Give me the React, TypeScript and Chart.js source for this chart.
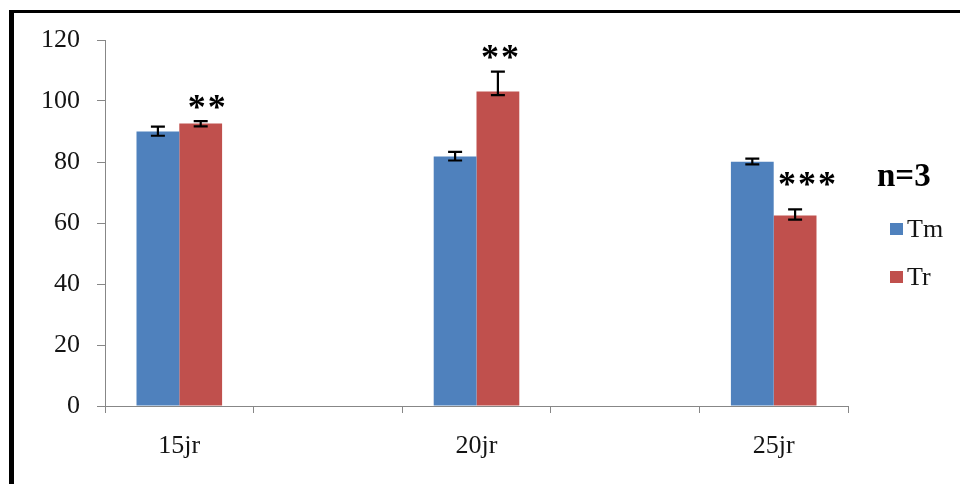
import React, { useEffect, useRef } from "react";
import { Chart, registerables } from "chart.js";

Chart.register(...registerables);

// ---- data ----
const categories = ["15jr", "20jr", "25jr"];
const seriesNames = ["Tm", "Tr"];
const tmValues = [90.0, 81.8, 80.1];
const trValues = [92.6, 103.1, 62.5];
const tmErrUp = [1.6, 1.5, 1.0];
const tmErrDown = [1.4, 1.3, 0.9];
const trErrUp = [0.8, 6.5, 2.0];
const trErrDown = [0.9, 1.2, 1.4];
const starLabels = ["**", "**", "***"];
const starLevels = [99.8, 116.2, 74.3]; // vertical position of the marks, in value units
const yTicks = [0, 20, 40, 60, 80, 100, 120];
const noteText = "n=3";

// ---- styles ----
const BLUE = "#4F81BD";
const RED = "#C0504D";
const AXIS = "#878787";
const TEXT = "#141414";
const SERIF = "'Liberation Serif', 'Times New Roman', serif";
const starDx = [7, 3, 13];

function withGaps(arr: any[], gap: any) {
  const out: any[] = [];
  arr.forEach((v, i) => {
    out.push(v);
    if (i < arr.length - 1) out.push(gap);
  });
  return out;
}

const overlayPlugin = {
  id: "overlay",
  afterDatasetsDraw(chart: any) {
    const { ctx, chartArea } = chart;
    const yScale = chart.scales.y;
    ctx.save();
    // error bars
    const sets = [
      { vals: tmValues, up: tmErrUp, down: tmErrDown },
      { vals: trValues, up: trErrUp, down: trErrDown },
    ];
    ctx.strokeStyle = "#000";
    ctx.lineWidth = 2.2;
    sets.forEach((s, di) => {
      const meta = chart.getDatasetMeta(di);
      s.vals.forEach((v, i) => {
        const bar = meta.data[i * 2];
        if (!bar) return;
        const x = bar.x;
        const yt = yScale.getPixelForValue(v + s.up[i]);
        const yb = yScale.getPixelForValue(v - s.down[i]);
        ctx.beginPath();
        ctx.moveTo(x, yt);
        ctx.lineTo(x, yb);
        ctx.moveTo(x - 7, yt);
        ctx.lineTo(x + 7, yt);
        ctx.moveTo(x - 7, yb);
        ctx.lineTo(x + 7, yb);
        ctx.stroke();
      });
    });
    // significance stars
    const trMeta = chart.getDatasetMeta(1);
    ctx.fillStyle = "#000";
    ctx.font = `bold 36px ${SERIF}`;
    ctx.textAlign = "center";
    ctx.textBaseline = "alphabetic";
    (ctx as any).letterSpacing = "2px";
    starLabels.forEach((t, i) => {
      const bar = trMeta.data[i * 2];
      if (!bar) return;
      const yc = yScale.getPixelForValue(starLevels[i]);
      ctx.fillText(t, bar.x + starDx[i], yc + 17);
    });
    (ctx as any).letterSpacing = "0px";
    // n=3
    const r = chartArea.right;
    ctx.textAlign = "left";
    ctx.font = `bold 33px ${SERIF}`;
    ctx.fillStyle = "#000";
    ctx.fillText(noteText, r + 29, 186);
    // legend
    ctx.font = `26px ${SERIF}`;
    const colors = [BLUE, RED];
    const rows = [229, 277];
    seriesNames.forEach((n, i) => {
      ctx.fillStyle = colors[i];
      ctx.fillRect(r + 42, rows[i] - 6, 13, 12);
      ctx.fillStyle = TEXT;
      ctx.textBaseline = "middle";
      ctx.fillText(n, r + 59, rows[i] + 1);
    });
    ctx.restore();
  },
};

export default function App() {
  const ref = useRef<HTMLCanvasElement | null>(null);

  useEffect(() => {
    if (!ref.current) return;
    const labels = withGaps(categories, "");
    const chart = new Chart(ref.current, {
      type: "bar",
      data: {
        labels,
        datasets: [
          {
            label: seriesNames[0],
            data: withGaps(tmValues, null),
            backgroundColor: BLUE,
            borderWidth: 0,
          },
          {
            label: seriesNames[1],
            data: withGaps(trValues, null),
            backgroundColor: RED,
            borderWidth: 0,
          },
        ],
      },
      options: {
        animation: false,
        responsive: false,
        layout: { padding: { top: 40, right: 112, bottom: 0, left: 0 } },
        plugins: {
          legend: { display: false },
          tooltip: { enabled: false },
        },
        datasets: {
          bar: { categoryPercentage: 0.576, barPercentage: 1.0 },
        },
        scales: {
          x: {
            grid: {
              offset: true,
              drawOnChartArea: false,
              drawTicks: true,
              tickLength: 7,
              color: AXIS,
            },
            border: { color: AXIS, width: 1 },
            ticks: {
              font: { family: SERIF, size: 26 },
              color: TEXT,
              padding: 18,
              maxRotation: 0,
              autoSkip: false,
            },
            afterFit: (s: any) => {
              s.height = 78;
            },
          },
          y: {
            min: 0,
            max: 120,
            afterBuildTicks: (s: any) => {
              s.ticks = yTicks.map((v) => ({ value: v }));
            },
            grid: {
              drawOnChartArea: false,
              drawTicks: true,
              tickLength: 8,
              color: AXIS,
            },
            border: { color: AXIS, width: 1 },
            ticks: {
              font: { family: SERIF, size: 26 },
              color: TEXT,
              padding: 17,
            },
            afterFit: (s: any) => {
              s.width = 105;
            },
          },
        },
      },
      plugins: [overlayPlugin],
    });
    return () => chart.destroy();
  }, []);

  return (
    <div style={{ position: "absolute", left: 0, top: 0, width: 960, height: 484, background: "#fff", overflow: "hidden" }}>
      <canvas ref={ref} width={960} height={484} style={{ position: "absolute", left: 0, top: 0 }} />
      <div
        style={{
          position: "absolute",
          left: 9,
          top: 10,
          width: 951,
          height: 474,
          borderTop: "3px solid #000",
          borderLeft: "5px solid #000",
          boxSizing: "border-box",
          pointerEvents: "none",
        }}
      />
    </div>
  );
}
